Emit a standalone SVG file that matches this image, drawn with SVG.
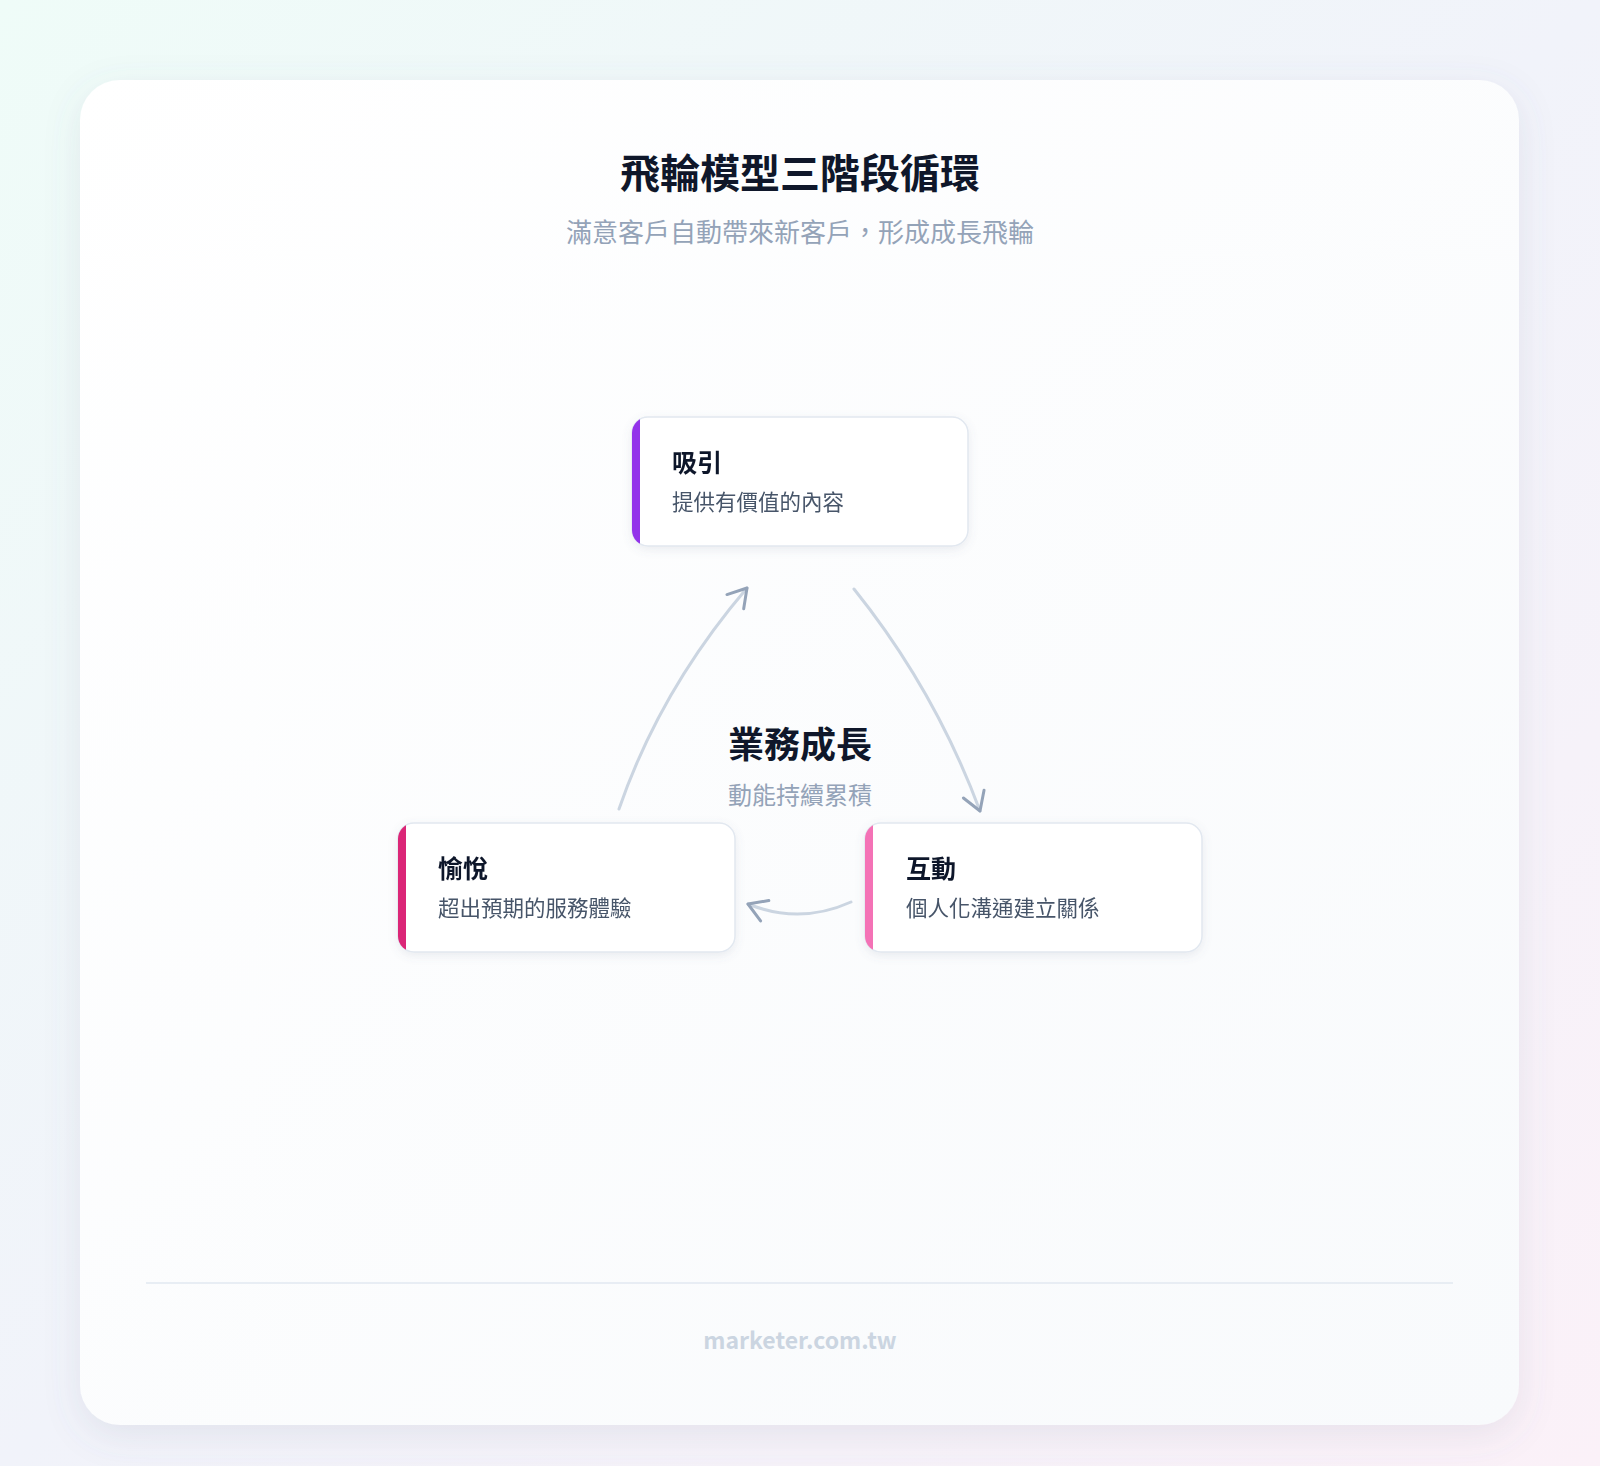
<svg xmlns="http://www.w3.org/2000/svg" width="1600" height="1466" viewBox="0 0 1600 1466">
<defs>
<linearGradient id="bg" x1="0" y1="0" x2="1" y2="1"><stop offset="0" stop-color="#effcf8"/><stop offset="0.5" stop-color="#f1f3fa"/><stop offset="1" stop-color="#fbf1f8"/></linearGradient>
<linearGradient id="card" x1="0" y1="0" x2="1" y2="1"><stop offset="0" stop-color="#ffffff"/><stop offset="1" stop-color="#f8fafc"/></linearGradient>
<filter id="sh" x="-10%" y="-10%" width="120%" height="120%"><feDropShadow dx="0" dy="10" stdDeviation="18" flood-color="#64748b" flood-opacity="0.12"/></filter>
<filter id="nsh" x="-10%" y="-10%" width="120%" height="130%"><feDropShadow dx="0" dy="3" stdDeviation="5" flood-color="#64748b" flood-opacity="0.12"/></filter>
<marker id="arr" viewBox="0 0 30 30" refX="22" refY="15" markerWidth="30" markerHeight="30" markerUnits="userSpaceOnUse" orient="auto"><path d="M4 4 L22 15 L4 26" fill="none" stroke="#94a3b8" stroke-width="3" stroke-linecap="round" stroke-linejoin="round"/></marker>
<clipPath id="c1"><rect x="632" y="417" width="336" height="129" rx="16"/></clipPath>
<clipPath id="c2"><rect x="398" y="823" width="337" height="129" rx="16"/></clipPath>
<clipPath id="c3"><rect x="865" y="823" width="337" height="129" rx="16"/></clipPath>
</defs>
<style>
text{font-family:"Noto Sans CJK TC","Noto Sans",sans-serif}
.nt{font-size:25px;font-weight:700;fill:#0f172a}
.nd{font-size:21.5px;fill:#475569}
.nb{fill:#ffffff;stroke:#e2e8f0;stroke-width:1.5}
.cn{fill:none;stroke:#cbd5e1;stroke-width:3;stroke-linecap:round}
</style>
<rect width="1600" height="1466" fill="url(#bg)"/>
<rect x="80" y="80" width="1439" height="1345" rx="40" fill="url(#card)" filter="url(#sh)"/>
<text x="800" y="188" text-anchor="middle" font-size="40" font-weight="700" fill="#0f172a">飛輪模型三階段循環</text>
<text x="800" y="242" text-anchor="middle" font-size="26" fill="#94a3b8">滿意客戶自動帶來新客戶，形成成長飛輪</text>
<g id="connectors">
<path class="cn" d="M854 589 Q935 690 980 811" marker-end="url(#arr)"/>
<path class="cn" d="M851 902 Q800 925 748 904" marker-end="url(#arr)"/>
<path class="cn" d="M619 809 Q660 690 747 588" marker-end="url(#arr)"/>
</g>
<g id="center">
<text x="800" y="758" text-anchor="middle" font-size="36" font-weight="700" fill="#0f172a">業務成長</text>
<text x="800" y="804" text-anchor="middle" font-size="24" fill="#94a3b8">動能持續累積</text>
</g>
<g id="node-attract" filter="url(#nsh)">
<rect class="nb" x="632" y="417" width="336" height="129" rx="16"/>
<rect x="632" y="417" width="8" height="129" fill="#9333ea" clip-path="url(#c1)"/>
<text class="nt" x="672" y="472">吸引</text>
<text class="nd" x="672" y="510">提供有價值的內容</text>
</g>
<g id="node-delight" filter="url(#nsh)">
<rect class="nb" x="398" y="823" width="337" height="129" rx="16"/>
<rect x="398" y="823" width="8" height="129" fill="#db2777" clip-path="url(#c2)"/>
<text class="nt" x="438" y="878">愉悅</text>
<text class="nd" x="438" y="916">超出預期的服務體驗</text>
</g>
<g id="node-engage" filter="url(#nsh)">
<rect class="nb" x="865" y="823" width="337" height="129" rx="16"/>
<rect x="865" y="823" width="8" height="129" fill="#f472b6" clip-path="url(#c3)"/>
<text class="nt" x="906" y="878">互動</text>
<text class="nd" x="906" y="916">個人化溝通建立關係</text>
</g>
<line x1="146" y1="1283" x2="1453" y2="1283" stroke="#e2e8f0" stroke-width="1.5"/>
<text x="800" y="1349" text-anchor="middle" font-family="Inter,'Liberation Sans',sans-serif" font-size="23" font-weight="700" fill="#cbd5e1">marketer.com.tw</text>
</svg>
